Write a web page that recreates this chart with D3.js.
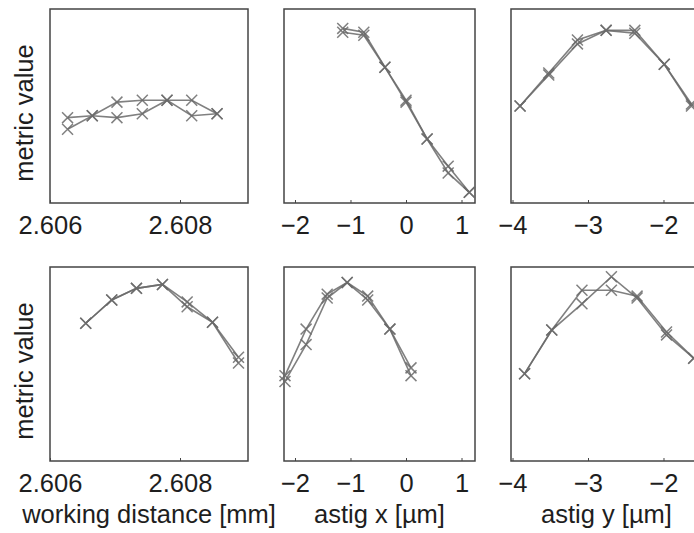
<!DOCTYPE html>
<html>
<head>
<meta charset="utf-8">
<script src="https://cdn.jsdelivr.net/npm/d3@7"></script>
<style>
  body { margin: 0; background: #fff; }
  svg { display: block; font-family: "Liberation Sans", Arial, sans-serif; }
</style>
</head>
<body>
<svg id="chart" width="694" height="533"></svg>
<script>
// working distance scans (x in mm), metric value normalised 0..1
const wdX1 = [2.60627, 2.60665, 2.60703, 2.60742, 2.60780, 2.60818, 2.60857];
const wdY1a = [0.44, 0.45, 0.52, 0.53, 0.53, 0.53, 0.46];
const wdY1b = [0.38, 0.45, 0.44, 0.46, 0.53, 0.45, 0.46];
const wdX2 = [2.60655, 2.60695, 2.60733, 2.60773, 2.60811, 2.60850, 2.60890];
const wdY2a = [0.71, 0.83, 0.89, 0.91, 0.82, 0.715, 0.535];
const wdY2b = [0.71, 0.83, 0.89, 0.91, 0.795, 0.715, 0.505];

// astig x scans (um)
const axX1 = [-1.14, -0.76, -0.38, 0, 0.38, 0.76, 1.14];
const axY1a = [0.90, 0.88, 0.70, 0.53, 0.33, 0.19, 0.055];
const axY1b = [0.88, 0.865, 0.70, 0.52, 0.33, 0.155, 0.055];
const axX2 = [-2.18, -1.80, -1.42, -1.06, -0.69, -0.29, 0.09];
const axY2a = [0.44, 0.68, 0.86, 0.92, 0.85, 0.68, 0.48];
const axY2b = [0.41, 0.60, 0.84, 0.92, 0.83, 0.68, 0.44];

// astig y scans (um)
const ayX1 = [-3.90, -3.52, -3.14, -2.76, -2.38, -1.99, -1.63];
const ayY1a = [0.50, 0.67, 0.84, 0.89, 0.89, 0.715, 0.51];
const ayY1b = [0.50, 0.66, 0.82, 0.89, 0.875, 0.715, 0.50];
const ayX2 = [-3.84, -3.48, -3.08, -2.69, -2.35, -1.96, -1.60];
const ayY2a = [0.45, 0.675, 0.88, 0.88, 0.85, 0.665, 0.53];
const ayY2b = [0.45, 0.675, 0.81, 0.95, 0.84, 0.65, 0.53];

// axis settings per column
const colDomains = [[2.606, 2.609046], [-2.198, 1.243], [-4.02, -1.49]];
const colTicks = [[2.606, 2.608], [-2, -1, 0, 1], [-4, -3, -2]];
const colTitles = ['working distance [mm]', 'astig x [\u00b5m]', 'astig y [\u00b5m]'];
const yLabel = 'metric value';

const panels = [
  { row: 0, col: 0, x: wdX1, ys: [wdY1a, wdY1b] },
  { row: 0, col: 1, x: axX1, ys: [axY1a, axY1b] },
  { row: 0, col: 2, x: ayX1, ys: [ayY1a, ayY1b] },
  { row: 1, col: 0, x: wdX2, ys: [wdY2a, wdY2b] },
  { row: 1, col: 1, x: axX2, ys: [axY2a, axY2b] },
  { row: 1, col: 2, x: ayX2, ys: [ayY2a, ayY2b] }
];

const svg = d3.select('#chart');
const colX = [[50, 248], [284, 475], [511, 702]];
const rowY = [[9, 203], [267, 461]];
const fontSize = 25.5;
const frameCol = '#444';
const markCol = '#6a6a6a';
const textCol = '#1e1e1e';

panels.forEach(p => {
  const [x0, x1] = colX[p.col];
  const [y0, y1] = rowY[p.row];
  const x = d3.scaleLinear().domain(colDomains[p.col]).range([x0, x1]);
  const y = d3.scaleLinear().domain([0, 1]).range([y1, y0]);
  const g = svg.append('g').attr('class', 'panel');

  // bottom axis, ticks pointing inwards
  const fmt = p.col === 0 ? d3.format('.3f') : d3.format('d');
  const ax = g.append('g')
      .attr('transform', 'translate(0,' + y1 + ')')
      .call(d3.axisBottom(x).tickValues(colTicks[p.col]).tickFormat(fmt)
              .tickSize(-3).tickPadding(13));
  ax.select('.domain').remove();
  ax.selectAll('line').attr('stroke', frameCol);
  ax.selectAll('text')
      .attr('fill', textCol)
      .style('font-size', fontSize + 'px')
      .style('font-family', '"Liberation Sans", Arial, sans-serif');

  // frame
  g.append('rect')
      .attr('x', x0).attr('y', y0)
      .attr('width', x1 - x0).attr('height', y1 - y0)
      .attr('fill', 'none')
      .attr('stroke', frameCol)
      .attr('stroke-width', 1.5);

  const line = d3.line().x(d => x(d[0])).y(d => y(d[1]));
  const marker = d3.symbol(d3.symbolX, 80);

  p.ys.forEach(ys => {
    const pts = p.x.map((v, i) => [v, ys[i]]);
    g.append('path')
        .datum(pts)
        .attr('d', line)
        .attr('fill', 'none')
        .attr('stroke', markCol)
        .attr('stroke-opacity', 0.85)
        .attr('stroke-width', 1.6);
    g.append('g').selectAll('path')
        .data(pts)
        .enter()
          .append('path')
          .attr('d', marker)
          .attr('transform', d => 'translate(' + x(d[0]) + ',' + y(d[1]) + ')')
          .attr('fill', 'none')
          .attr('stroke', markCol)
          .attr('stroke-opacity', 0.85)
          .attr('stroke-width', 1.5);
  });

  // y label on first column
  if (p.col === 0) {
    const cy = (y0 + y1) / 2 + 7;
    svg.append('text')
        .attr('transform', 'translate(33,' + cy + ') rotate(-90)')
        .attr('text-anchor', 'middle')
        .attr('fill', textCol)
        .style('font-size', fontSize + 'px')
        .text(yLabel);
  }
  // x titles on bottom row
  if (p.row === 1) {
    svg.append('text')
        .attr('x', (x0 + x1) / 2)
        .attr('y', 523)
        .attr('text-anchor', 'middle')
        .attr('fill', textCol)
        .style('font-size', fontSize + 'px')
        .text(colTitles[p.col]);
  }
});
</script>
</body>
</html>
